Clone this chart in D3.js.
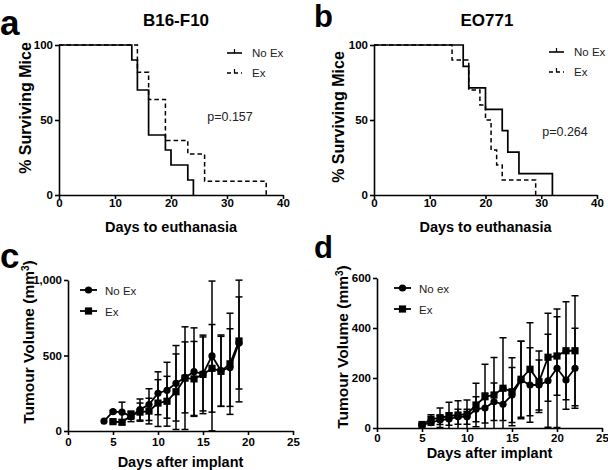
<!DOCTYPE html>
<html><head><meta charset="utf-8">
<script src="https://cdn.jsdelivr.net/npm/d3@7"></script>
<style>body{margin:0;background:#fff}svg{display:block}text{font-family:"Liberation Sans",Arial,sans-serif}</style>
</head><body><svg id="chart" width="608" height="470"></svg>
<script>
// ---- Panel a: B16-F10 survival ----
const aNoExDays = [0, 13, 14, 16, 19, 20, 23, 24];
const aNoExPct  = [100, 90, 70, 40, 30, 20, 10, 0];
const aExDays   = [0, 14, 16, 19, 23, 26, 37];
const aExPct    = [100, 81.8, 63.6, 36.4, 27.3, 9.1, 0];
// ---- Panel b: EO771 survival ----
const bNoExDays = [0, 16, 17, 20, 23, 24, 26, 32];
const bNoExPct  = [100, 85.7, 71.4, 57.1, 42.9, 28.6, 14.3, 0];
const bExDays   = [0, 14, 17, 19, 20, 21, 22, 23, 29];
const bExPct    = [100, 90, 70, 60, 50, 30, 20, 10, 0];
const survTicksX = [0, 10, 20, 30, 40];
const survTicksY = [0, 50, 100];
// ---- Panel c: B16-F10 tumour volume ----
const cNoExDays = [4, 5, 6, 7, 8, 9, 10, 11, 12, 13, 14, 15, 16, 17, 18, 19];
const cNoExMean = [65, 128, 125, 97, 142, 175, 250, 270, 316, 355, 393, 378, 497, 400, 420, 583];
const cNoExErr  = [0, 8, 66, 35, 70, 105, 142, 185, 250, 235, 290, 245, 496, 236, 257, 305];
const cExDays   = [5, 6, 7, 8, 9, 10, 11, 12, 13, 14, 15, 16, 17, 18, 19];
const cExMean   = [62, 58, 103, 125, 132, 185, 197, 260, 350, 345, 375, 415, 395, 445, 596];
const cExErr    = [8, 15, 25, 60, 85, 155, 165, 250, 340, 248, 260, 290, 232, 335, 403];
const cTicksX = [0, 5, 10, 15, 20, 25];
const cTicksY = [0, 500, 1000];
// ---- Panel d: EO771 tumour volume ----
const dNoExDays = [5, 6, 7, 8, 9, 10, 11, 12, 13, 14, 15, 16, 17, 18, 19, 20, 21, 22];
const dNoExMean = [12, 21, 32, 36, 45, 45, 75, 80, 105, 95, 132, 192, 172, 172, 189, 239, 192, 239];
const dNoExErr  = [3, 10, 18, 25, 30, 30, 50, 60, 75, 65, 110, 155, 149, 100, 186, 237, 117, 160];
const dExDays   = [5, 6, 7, 8, 9, 10, 11, 12, 13, 14, 15, 16, 17, 18, 19, 20, 21, 22];
const dExMean   = [14, 35, 41, 48, 52, 55, 92, 125, 132, 159, 145, 195, 235, 185, 283, 288, 309, 309];
const dExErr    = [4, 18, 39, 55, 57, 57, 87, 130, 150, 202, 136, 152, 186, 123, 176, 157, 196, 220];
const dTicksX = [0, 5, 10, 15, 20, 25];
const dTicksY = [0, 200, 400, 600];

const svg = d3.select("#chart");
const FONT = '"Liberation Sans",Arial,sans-serif';

function axes(g, x, y, ticksX, ticksY, padX) {
  const xa = g.append("g").attr("transform", `translate(0,${y.range()[0]})`)
    .call(d3.axisBottom(x).tickValues(ticksX).tickSize(4).tickSizeOuter(0).tickPadding(padX));
  const ya = g.append("g").attr("transform", `translate(${x.range()[0]},0)`)
    .call(d3.axisLeft(y).tickValues(ticksY).tickSize(4).tickSizeOuter(0).tickPadding(2));
  [xa, ya].forEach(a => {
    a.select(".domain").attr("stroke", "#000").attr("stroke-width", 1.6);
    a.selectAll(".tick line").attr("stroke", "#000").attr("stroke-width", 1.6);
    a.selectAll(".tick text").attr("fill", "#000").attr("font-size", 11.5)
      .attr("font-weight", "bold").attr("font-family", FONT);
  });
}

function text(x, y, s, opts = {}) {
  const t = svg.append("text").attr("x", x).attr("y", y).text(s)
    .attr("font-size", opts.size || 12).attr("font-weight", opts.bold ? "bold" : "normal")
    .attr("text-anchor", opts.anchor || "start").attr("fill", opts.fill || "#000");
  if (opts.rotate) t.attr("transform", `rotate(-90,${x},${y})`);
  return t;
}

function survival(cfg) {
  const g = svg.append("g");
  const x = d3.scaleLinear().domain([0, 40]).range(cfg.xr);
  const y = d3.scaleLinear().domain([0, 100]).range(cfg.yr);
  const line = d3.line().x(d => x(d[0])).y(d => y(d[1])).curve(d3.curveStepAfter);
  const mk = (days, pct) => days.map((d, i) => [d, pct[i]]);
  g.append("path").attr("d", line(mk(cfg.exD, cfg.exP))).attr("fill", "none")
    .attr("stroke", "#000").attr("stroke-width", 1.5).attr("stroke-dasharray", "4.5,3");
  g.append("path").attr("d", line(mk(cfg.noD, cfg.noP))).attr("fill", "none")
    .attr("stroke", "#000").attr("stroke-width", 1.7);
  axes(g, x, y, survTicksX, survTicksY, 0);
  // legend
  const lx = cfg.legX, ly = cfg.legY;
  g.append("line").attr("x1", lx).attr("x2", lx + 15).attr("y1", ly).attr("y2", ly)
    .attr("stroke", "#000").attr("stroke-width", 1.6);
  g.append("line").attr("x1", lx + 7.5).attr("x2", lx + 7.5).attr("y1", ly - 4).attr("y2", ly)
    .attr("stroke", "#000").attr("stroke-width", 1.2);
  g.append("line").attr("x1", lx).attr("x2", lx + 15).attr("y1", ly + 20).attr("y2", ly + 20)
    .attr("stroke", "#000").attr("stroke-width", 1.5).attr("stroke-dasharray", "4,3");
  g.append("line").attr("x1", lx + 7.5).attr("x2", lx + 7.5).attr("y1", ly + 16).attr("y2", ly + 20)
    .attr("stroke", "#000").attr("stroke-width", 1.2);
  text(lx + 25, ly + 4, "No Ex", { size: 11.5, fill: "#222" });
  text(lx + 25, ly + 24, "Ex", { size: 11.5, fill: "#222" });
  text(cfg.pX, cfg.pY, cfg.p, { size: 12.5, anchor: "middle", fill: "#222" });
  const cx = (cfg.xr[0] + cfg.xr[1]) / 2;
  text(cx, 232, "Days to euthanasia", { size: 14.5, bold: true, anchor: "middle" });
  text(cfg.ylX, cfg.ylY, "% Surviving Mice", { size: 16, bold: true, anchor: "middle", rotate: true });
  text(cfg.tX, 26, cfg.title, { size: 17, bold: true, anchor: "middle" });
  text(cfg.letX, cfg.letY, cfg.letter, { size: cfg.letS, bold: true });
}

survival({ xr: [59, 283], yr: [195, 45], noD: aNoExDays, noP: aNoExPct, exD: aExDays, exP: aExPct,
  legX: 227, legY: 53, pX: 230, pY: 121, p: "p=0.157", ylX: 31, ylY: 108, tX: 176, title: "B16-F10",
  letX: 0, letY: 35, letS: 35, letter: "a" });
survival({ xr: [374, 597], yr: [195, 45], noD: bNoExDays, noP: bNoExPct, exD: bExDays, exP: bExPct,
  legX: 549, legY: 52, pX: 565, pY: 136, p: "p=0.264", ylX: 344, ylY: 117, tX: 487, title: "EO771",
  letX: 314, letY: 27, letS: 31, letter: "b" });

function volume(cfg) {
  const g = svg.append("g");
  const x = d3.scaleLinear().domain([0, 25]).range(cfg.xr);
  const y = d3.scaleLinear().domain([0, cfg.ymax]).range(cfg.yr);
  const line = d3.line().x(d => x(d[0])).y(d => y(d[1]));
  const series = [
    { days: cfg.exD, mean: cfg.exM, err: cfg.exE, shape: "square" },
    { days: cfg.noD, mean: cfg.noM, err: cfg.noE, shape: "circle" }
  ];
  const clip = v => Math.max(0, Math.min(cfg.ymax, v));
  series.forEach(s => {
    const pts = s.days.map((d, i) => ({ d, m: s.mean[i], e: s.err[i] }));
    const eb = g.append("g").attr("stroke", "#000").attr("stroke-width", 1.5);
    pts.forEach(p => {
      if (p.e <= 0) return;
      const px = x(p.d);
      eb.append("line").attr("x1", px).attr("x2", px).attr("y1", y(clip(p.m + p.e))).attr("y2", y(clip(p.m - p.e)));
      if (p.m + p.e <= cfg.ymax)
        eb.append("line").attr("x1", px - 3.5).attr("x2", px + 3.5).attr("y1", y(p.m + p.e)).attr("y2", y(p.m + p.e));
      if (p.m - p.e >= 0)
        eb.append("line").attr("x1", px - 3.5).attr("x2", px + 3.5).attr("y1", y(p.m - p.e)).attr("y2", y(p.m - p.e));
    });
    g.append("path").attr("d", line(pts.map(p => [p.d, p.m]))).attr("fill", "none")
      .attr("stroke", "#000").attr("stroke-width", 1.8);
    pts.forEach(p => {
      if (s.shape === "circle")
        g.append("circle").attr("cx", x(p.d)).attr("cy", y(p.m)).attr("r", 3.6).attr("fill", "#000");
      else
        g.append("rect").attr("x", x(p.d) - 3.6).attr("y", y(p.m) - 3.6).attr("width", 7.2).attr("height", 7.2).attr("fill", "#000");
    });
  });
  axes(g, x, y, cfg.tx, cfg.ty, cfg.padX);
  // legend
  const lx = cfg.legX, ly = cfg.legY;
  [0, 1].forEach(k => {
    const yy = ly + k * cfg.legGap;
    g.append("line").attr("x1", lx).attr("x2", lx + 17).attr("y1", yy).attr("y2", yy)
      .attr("stroke", "#000").attr("stroke-width", 1.8);
    if (k === 0) g.append("circle").attr("cx", lx + 8.5).attr("cy", yy).attr("r", 3.6).attr("fill", "#000");
    else g.append("rect").attr("x", lx + 4.9).attr("y", yy - 3.6).attr("width", 7.2).attr("height", 7.2).attr("fill", "#000");
  });
  text(lx + 25, ly + 4.5, cfg.noLabel, { size: 11.5, fill: "#222" });
  text(lx + 25, ly + cfg.legGap + 4.5, "Ex", { size: 11.5, fill: "#222" });
  const cx = (cfg.xr[0] + cfg.xr[1]) / 2;
  text(cx, cfg.xlY, "Days after implant", { size: 14.5, bold: true, anchor: "middle" });
  const yl = text(cfg.ylX, cfg.ylY, "Tumour Volume (mm", { size: 15.5, bold: true, anchor: "middle", rotate: true });
  yl.append("tspan").attr("baseline-shift", "super").attr("font-size", 10).text("3");
  yl.append("tspan").text(")");
  text(cfg.letX, cfg.letY, cfg.letter, { size: cfg.letS, bold: true });
}

volume({ xr: [68, 293], yr: [431, 280], ymax: 1000, tx: cTicksX, ty: cTicksY, padX: 3,
  noD: cNoExDays, noM: cNoExMean, noE: cNoExErr, exD: cExDays, exM: cExMean, exE: cExErr,
  legX: 80, legY: 290, legGap: 21, noLabel: "No Ex", xlY: 467, ylX: 34, ylY: 342,
  letX: 0, letY: 268, letS: 35, letter: "c" });
volume({ xr: [377, 602], yr: [428, 278], ymax: 600, tx: dTicksX, ty: dTicksY, padX: 2,
  noD: dNoExDays, noM: dNoExMean, noE: dNoExErr, exD: dExDays, exM: dExMean, exE: dExErr,
  legX: 394, legY: 288, legGap: 21, noLabel: "No ex", xlY: 458, ylX: 348, ylY: 347,
  letX: 314, letY: 258, letS: 31, letter: "d" });
</script></body></html>
